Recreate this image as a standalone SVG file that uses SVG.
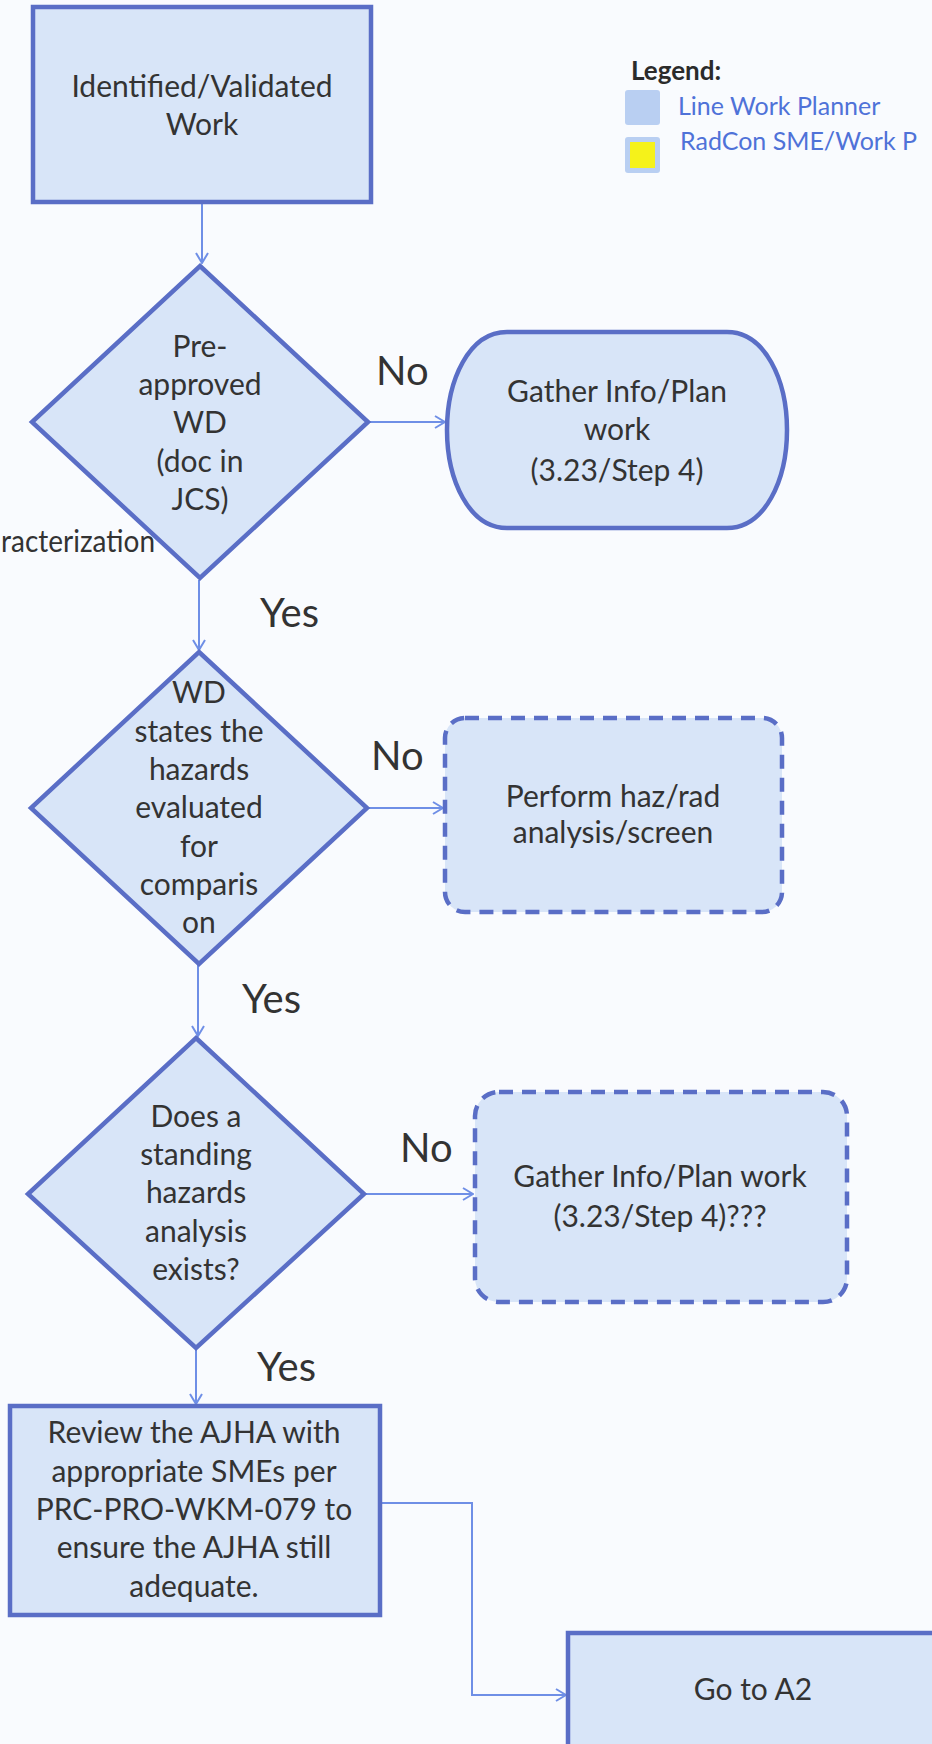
<svg xmlns="http://www.w3.org/2000/svg" width="932" height="1744" viewBox="0 0 932 1744">
  <defs>
    <style>
      .node { fill: #d8e5f8; stroke: #5a6ec6; stroke-width: 4.5; }
      .dash { stroke-dasharray: 14 9; }
      .lbl { font-family: Lato, "Open Sans", sans-serif; font-size: 30px; fill: #333333; text-anchor: middle; }
      .yn { font-family: Lato, "Open Sans", sans-serif; font-size: 40px; fill: #333333; }
      .conn { fill: none; stroke: #6f8fe6; stroke-width: 2; }
      .legend { font-family: Lato, "Open Sans", sans-serif; font-size: 25px; fill: #4f72d8; }
    </style>
    <marker id="arrow" viewBox="0 0 12 14" refX="11" refY="7" markerWidth="12" markerHeight="14" markerUnits="userSpaceOnUse" orient="auto">
      <path d="M1,1 L11,7 L1,13" fill="none" stroke="#6f8fe6" stroke-width="2"/>
    </marker>
  </defs>

  <rect width="932" height="1744" fill="#f9fbfe"/>

  <!-- connectors -->
  <g id="connectors">
    <path class="conn" d="M202,204 V263" marker-end="url(#arrow)"/>
    <path class="conn" d="M368,422 H445" marker-end="url(#arrow)"/>
    <path class="conn" d="M199,580 V650" marker-end="url(#arrow)"/>
    <path class="conn" d="M367,808 H443" marker-end="url(#arrow)"/>
    <path class="conn" d="M198,965 V1036" marker-end="url(#arrow)"/>
    <path class="conn" d="M364,1194 H473" marker-end="url(#arrow)"/>
    <path class="conn" d="M196,1349 V1404" marker-end="url(#arrow)"/>
    <path class="conn" d="M382,1503 H472 V1695 H566" marker-end="url(#arrow)"/>
  </g>

  <!-- edge labels -->
  <g id="edge-labels">
    <text class="yn" x="376" y="385">No</text>
    <text class="yn" x="260" y="627">Yes</text>
    <text class="yn" x="371" y="770">No</text>
    <text class="yn" x="242" y="1013">Yes</text>
    <text class="yn" x="400" y="1162">No</text>
    <text class="yn" x="257" y="1381">Yes</text>
  </g>

  <!-- legend -->
  <g id="legend">
    <text x="631" y="80" style="font-family: Lato, 'Open Sans', sans-serif; font-size: 26px; font-weight: bold; fill: #2b2b2b;">Legend:</text>
    <rect x="625" y="90" width="35" height="35" rx="3" fill="#b9cff2"/>
    <text class="legend" x="678" y="115">Line Work Planner</text>
    <rect x="625" y="137" width="35" height="36" rx="3" fill="#b9cff2"/>
    <rect x="630" y="142" width="25" height="26" fill="#f5f21a"/>
    <text class="legend" x="680" y="150">RadCon SME/Work P</text>
  </g>

  <g id="start">
    <rect class="node" x="33" y="7" width="338" height="195"/>
    <text class="lbl" x="202" y="97">Identified/Validated</text>
    <text class="lbl" x="202" y="135">Work</text>
  </g>

  <text class="lbl" x="1" y="552" textLength="154" lengthAdjust="spacingAndGlyphs" style="text-anchor: start;">racterization</text>

  <g id="decision-preapproved">
    <polygon class="node" points="200,266 368,422 200,578 32,422"/>
    <text class="lbl" x="200" y="357">Pre-</text>
    <text class="lbl" x="200" y="395">approved</text>
    <text class="lbl" x="200" y="433">WD</text>
    <text class="lbl" x="200" y="472">(doc in</text>
    <text class="lbl" x="200" y="510">JCS)</text>
  </g>

  <g id="gather-info">
    <path class="node" d="M507,332 H727 C765,332 787,380 787,430 C787,480 765,528 727,528 H507 C469,528 447,480 447,430 C447,380 469,332 507,332 Z"/>
    <text class="lbl" x="617" y="402">Gather Info/Plan</text>
    <text class="lbl" x="617" y="440">work</text>
    <text class="lbl" x="617" y="481">(3.23/Step 4)</text>
  </g>

  <g id="decision-hazards-stated">
    <polygon class="node" points="199,652 367,808 199,964 31,808"/>
    <text class="lbl" x="199" y="703">WD</text>
    <text class="lbl" x="199" y="742">states the</text>
    <text class="lbl" x="199" y="780">hazards</text>
    <text class="lbl" x="199" y="818">evaluated</text>
    <text class="lbl" x="199" y="857">for</text>
    <text class="lbl" x="199" y="895">comparis</text>
    <text class="lbl" x="199" y="933">on</text>
  </g>

  <g id="perform-analysis">
    <rect class="node dash" x="445" y="718" width="337" height="194" rx="20"/>
    <text class="lbl" x="613" y="807">Perform haz/rad</text>
    <text class="lbl" x="613" y="843">analysis/screen</text>
  </g>

  <g id="decision-standing-analysis">
    <polygon class="node" points="196,1038 364,1194 196,1348 28,1194"/>
    <text class="lbl" x="196" y="1127">Does a</text>
    <text class="lbl" x="196" y="1165">standing</text>
    <text class="lbl" x="196" y="1203">hazards</text>
    <text class="lbl" x="196" y="1242">analysis</text>
    <text class="lbl" x="196" y="1280">exists?</text>
  </g>

  <g id="gather-info-2">
    <rect class="node dash" x="475" y="1092" width="372" height="210" rx="24"/>
    <text class="lbl" x="660" y="1187">Gather Info/Plan work</text>
    <text class="lbl" x="660" y="1227">(3.23/Step 4)???</text>
  </g>

  <g id="review-ajha">
    <rect class="node" x="10" y="1406" width="370" height="209"/>
    <text class="lbl" x="194" y="1443">Review the AJHA with</text>
    <text class="lbl" x="194" y="1482">appropriate SMEs per</text>
    <text class="lbl" x="194" y="1520">PRC-PRO-WKM-079 to</text>
    <text class="lbl" x="194" y="1558">ensure the AJHA still</text>
    <text class="lbl" x="194" y="1597">adequate.</text>
  </g>

  <g id="go-to-a2">
    <rect class="node" x="568" y="1633" width="380" height="130"/>
    <text class="lbl" x="753" y="1700">Go to A2</text>
  </g>
</svg>
